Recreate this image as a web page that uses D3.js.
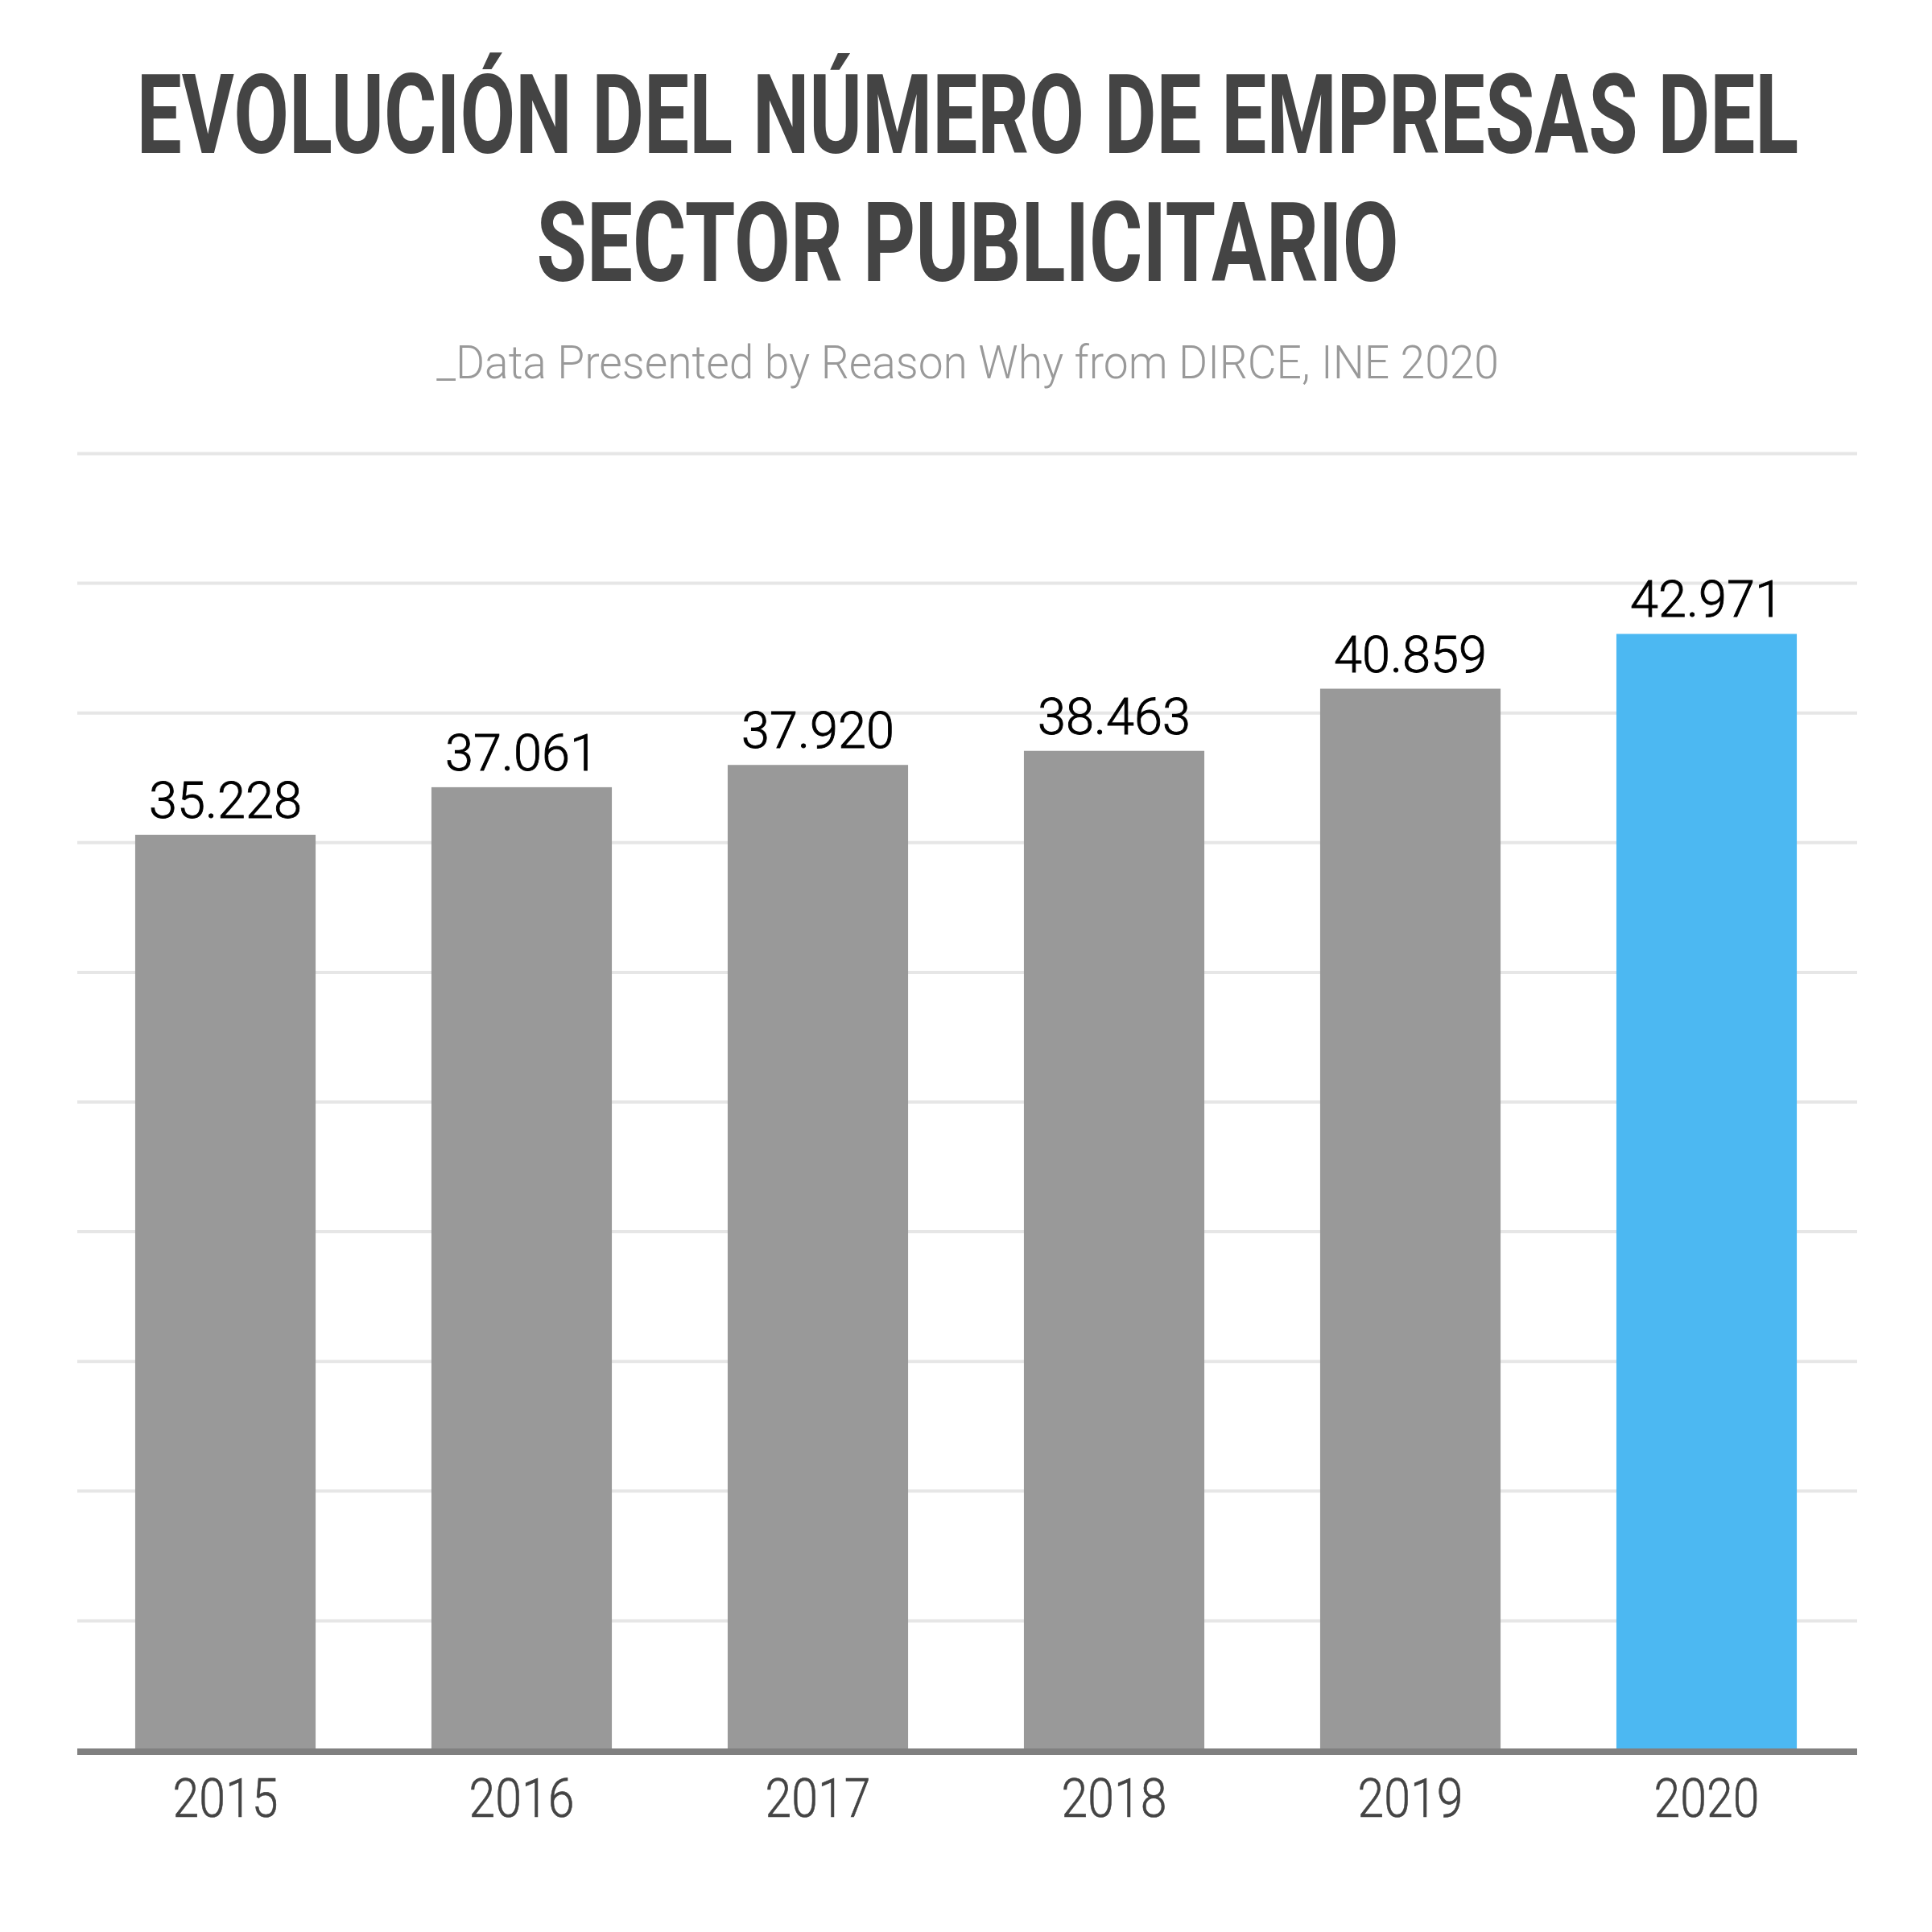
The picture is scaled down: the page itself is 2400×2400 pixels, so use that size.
<!DOCTYPE html>
<html>
<head>
<meta charset="utf-8">
<script src="https://cdn.jsdelivr.net/npm/d3@7"></script>
<style>
  body { margin: 0; background: #fff; }
  svg { display: block; }
</style>
</head>
<body>
<svg id="chart" width="2400" height="2400"></svg>
<script>
// data
const years = ['2015', '2016', '2017', '2018', '2019', '2020']
const empresas = [35228, 37061, 37920, 38463, 40859, 42971]
const highlightYear = '2020'
const titleLines = ['EVOLUCIÓN DEL NÚMERO DE EMPRESAS DEL', 'SECTOR PUBLICITARIO']
const titleWidths = [2065, 1071]
const subtitle = '_Data Presented by Reason Why from DIRCE, INE 2020'

const data = years.map((y, i) => ({ year: y, value: empresas[i] }))

// spanish number format: 35.228
const es = d3.formatLocale({ decimal: ',', thousands: '.', grouping: [3], currency: ['', ' €'] })
const fmt = es.format(',d')

const svg = d3.select('#chart')

const plotLeft = 96
const plotRight = 2307
const plotTop = 561
const plotBottom = 2172
const centerX = 1202

const x = d3.scaleBand()
  .domain(years)
  .range([plotLeft, plotRight - 3])
  .paddingInner(0.391)
  .paddingOuter(0.1955)

const y = d3.scaleLinear()
  .domain([0, 50000])
  .range([plotBottom, plotTop])

// squeeze a text horizontally so it takes the given width (condensed look)
function fitWidth (sel, width) {
  sel.each(function (d, i) {
    const w = typeof width === 'function' ? width(d, i) : width
    const len = this.getComputedTextLength()
    const ty = +this.getAttribute('data-y')
    d3.select(this)
      .attr('transform', 'translate(' + centerX + ',' + ty + ') scale(' + (w / len) + ',1)')
  })
}

// title
svg.append('g')
  .selectAll('text')
  .data(titleLines)
  .enter()
  .append('text')
  .attr('data-y', (d, i) => 190 + i * 159)
  .attr('text-anchor', 'middle')
  .style('font-family', 'Roboto, sans-serif')
  .style('font-weight', 700)
  .style('font-size', '137px')
  .style('fill', '#444444')
  .text(d => d)
  .call(fitWidth, (d, i) => titleWidths[i])

svg.append('text')
  .attr('data-y', 470)
  .attr('text-anchor', 'middle')
  .style('font-family', 'Roboto, sans-serif')
  .style('font-weight', 300)
  .style('font-size', '58px')
  .style('fill', '#999999')
  .text(subtitle)
  .call(fitWidth, 1320)

// gridlines
const grid = svg.append('g')
  .attr('class', 'grid')
  .attr('transform', 'translate(' + plotLeft + ',0)')
  .call(d3.axisLeft(y).ticks(10).tickSize(-(plotRight - plotLeft)).tickFormat(''))

grid.select('.domain').remove()
grid.selectAll('.tick line')
  .attr('transform', 'translate(0,2)')
  .style('stroke', '#e6e6e6')
  .style('stroke-width', 4)
grid.selectAll('.tick').filter(d => d === 0).remove()

// bars
svg.append('g')
  .selectAll('rect')
  .data(data)
  .enter()
  .append('rect')
  .attr('x', d => x(d.year))
  .attr('y', d => y(d.value))
  .attr('width', x.bandwidth())
  .attr('height', d => y(0) - y(d.value))
  .style('fill', d => d.year === highlightYear ? '#4cb8f2' : '#999999')

// value labels
svg.append('g')
  .selectAll('text')
  .data(data)
  .enter()
  .append('text')
  .attr('x', d => x(d.year) + x.bandwidth() / 2)
  .attr('y', d => y(d.value) - 21)
  .attr('text-anchor', 'middle')
  .style('font-family', 'Roboto, sans-serif')
  .style('font-weight', 300)
  .style('font-size', '63px')
  .style('fill', '#000000')
  .style('stroke', '#000000')
  .style('stroke-width', 0.9)
  .text(d => fmt(d.value))

// x axis
const xAxis = svg.append('g')
  .attr('class', 'x axis')
  .attr('transform', 'translate(0,' + (plotBottom + 4) + ')')
  .call(d3.axisBottom(x).tickSize(0).tickSizeOuter(0))

xAxis.select('.domain')
  .attr('d', 'M' + plotLeft + ',0H' + plotRight)
  .style('stroke', '#808080')
  .style('stroke-width', 8)

xAxis.selectAll('.tick text')
  .attr('y', 81)
  .attr('dy', null)
  .attr('transform', 'scale(0.88,1)')
  .style('font-family', 'Roboto, sans-serif')
  .style('font-weight', 300)
  .style('font-size', '67px')
  .style('fill', '#444444')
  .style('stroke', '#444444')
  .style('stroke-width', 0.6)
</script>
</body>
</html>
